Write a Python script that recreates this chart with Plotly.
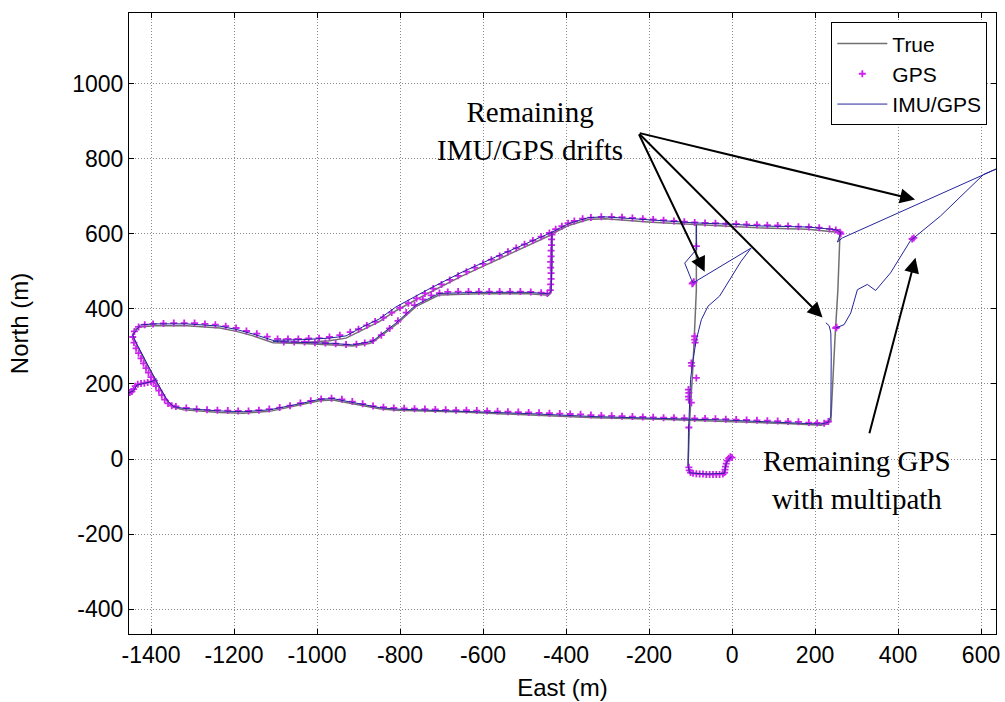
import plotly.graph_objects as go

# ---------------- data (East, North) in metres ----------------
true_main = [(-434,600),(-394,622),(-346,638),(-306,640),(-194,631),(-90,625),(6,620),(62,616),
             (182,612),(254,604),(260,598),(255,450),(248,320),(242,200),(238,101),(230,93),(214,90),
             (142,94),(62,97),(-18,101),(-98,104),(-178,106),(-330,110),(-490,118),(-650,125),
             (-810,130),(-850,134),(-914,147),(-962,157),(-994,155),(-1034,145),(-1114,127),
             (-1178,122),(-1234,124),(-1322,131),(-1346,138),(-1360,152),(-1386,203),(-1414,260),
             (-1436,308),(-1444,327),(-1440,344),(-1426,352),(-1394,355),(-1314,355),(-1234,349),
             (-1194,340),(-1154,328),(-1106,310),(-1034,308),(-962,305),(-914,301),(-874,308),
             (-866,311),(-810,358),(-762,406),(-706,437),(-610,440),(-490,440),(-442,436),
             (-436,443),(-434,520),(-434,600)]
true_upper = [(-1040,310),(-970,315),(-930,322),(-890,345),(-850,366),(-810,395),(-730,443),
              (-650,488),(-570,528),(-490,568),(-434,598)]
true_west_leg = [(-86,624),(-86,450),(-94,250),(-102,105),(-106,-19)]

gps_start = [(-1456,175),(-1451,177),(-1446,180),(-1442,186),(-1438,194),(-1432,199),(-1424,201),
             (-1416,202),(-1408,204),(-1400,206),(-1392,209)]
gps_turn = [(-1444,325),(-1441,310),(-1436,295),(-1430,282),(-1424,268),(-1418,255),(-1412,242),
            (-1406,230),(-1400,218),(-1394,206),(-1388,194),(-1381,182),(-1374,170),(-1367,158),
            (-1359,148),(-1350,142)]
gps_south_road = [(-1340,140),(-1315,136),(-1290,133),(-1265,131),(-1240,130),(-1215,129),(-1190,128),
                  (-1165,128),(-1140,130),(-1115,133),(-1090,137),(-1065,142),(-1040,149),(-1015,155),
                  (-990,160),(-965,162),(-940,159),(-915,153),(-890,147),(-865,141),(-840,138),
                  (-815,136),(-790,135),(-765,134),(-740,133),(-715,132),(-690,131),(-665,130),
                  (-640,130),(-615,129),(-590,128),(-565,127),(-540,126),(-515,125),(-490,124),
                  (-465,123),(-440,122),(-415,121),(-390,120),(-365,119),(-340,117),(-315,116),
                  (-290,115),(-265,114),(-240,113),(-215,112),(-190,111),(-165,110),(-140,110),
                  (-115,109),(-90,108),(-65,108),(-40,107),(-15,106),(10,105),(35,104),(60,103),
                  (85,102),(110,101),(135,100),(160,99),(185,97),(205,96),(222,95),(232,100)]
gps_north_road = [(-1440,340),(-1430,352),(-1415,358),(-1395,360),(-1370,361),(-1345,362),(-1320,362),
                  (-1295,362),(-1270,360),(-1245,358),(-1220,354),(-1195,349),(-1170,341),(-1145,334),
                  (-1120,326),(-1095,320),(-1070,320),(-1045,320),(-1020,321),(-995,322),(-970,325),
                  (-945,330),(-920,338),(-900,346),(-880,356),(-860,366),(-840,377),(-820,390),
                  (-800,403),(-780,415),(-760,428),(-740,441),(-720,454),(-700,465),(-680,477),
                  (-660,488),(-640,499),(-620,510),(-600,520),(-580,531),(-560,541),(-540,552),
                  (-520,562),(-500,572),(-480,582),(-460,592),(-440,602),(-425,612),(-410,620),
                  (-395,628),(-380,634),(-360,640),(-340,643),(-315,645),(-290,645),(-265,644),
                  (-240,642),(-215,640),(-190,638),(-165,636),(-140,634),(-115,632),(-90,630),
                  (-65,629),(-40,628),(-15,627),(10,626),(35,625),(60,624),(85,623),(110,622),
                  (135,621),(160,619),(185,618),(210,616),(235,613),(250,610),(260,604)]
gps_branch = [(-1080,312),(-1055,312),(-1030,312),(-1005,310),(-980,309),(-955,307),(-930,305),
              (-905,306),(-885,309),(-865,316),(-845,330),(-825,348),(-805,368),(-785,390),
              (-765,410),(-745,425),(-725,436),(-705,442),(-685,445),(-660,446),(-635,446),
              (-610,446),(-585,446),(-560,446),(-535,446),(-510,446),(-485,445),(-460,443),
              (-445,441),(-438,450),(-437,465),(-436,480),(-436,495),(-437,510),(-437,525),
              (-436,540),(-436,555),(-435,570),(-435,585),(-434,598)]
gps_end_hook = [(0,4),(-4,6),(-8,2),(-12,-4),(-14,-12),(-16,-20),(-17,-28),(-18,-36),(-22,-40),
                (-30,-41),(-38,-41),(-46,-41),(-54,-41),(-62,-41),(-70,-40),(-78,-40),(-86,-39),
                (-94,-38),(-100,-36),(-103,-30),(-104,-22)]
gps_sparse = [(-86,567),(-90,327),(-90,318),(-89,310),(-98,256),(-97,248),(-86,216),(-105,185),
              (-104,176),(-105,166),(-104,158),(-98,150),(-104,84),(-94,469),(-92,472),(-96,467),
              (250,349),(252,351),(438,589),(434,586),(262,600)]

imu_start = [(-1454,176),(-1442,182),(-1434,197),(-1418,202),(-1396,207),(-1386,214)]
imu_loop = [(226,363),(234,355),(238,336),(239,274),(238,114),(232,98),(214,93),(142,97),(62,100),
            (-18,104),(-98,106),(-178,108),(-330,113),(-490,121),(-650,128),(-810,133),(-850,137),
            (-914,151),(-962,161),(-994,159),(-1034,149),(-1114,131),(-1178,126),(-1234,128),
            (-1322,135),(-1346,140),(-1360,155),(-1386,205),(-1414,262),(-1436,310),(-1444,330),
            (-1426,357),(-1394,360),(-1314,360),(-1234,354),(-1194,345),(-1154,333),(-1106,316),
            (-1034,318),(-970,322),(-930,328),(-890,352),(-850,373),(-810,405),(-730,453),
            (-650,498),(-570,538),(-490,578),(-434,604),(-394,627),(-346,643),(-306,645),
            (-194,636),(-90,629),(6,625),(62,621),(182,618),(250,611),(262,603),(254,578)]
imu_branch = [(-1106,313),(-1034,311),(-962,308),(-914,304),(-874,311),(-866,314),(-810,362),
              (-762,410),(-706,441),(-610,444),(-490,444),(-442,440),(-436,446),(-434,520),(-434,604)]
imu_northeast = [(250,349),(270,358),(286,389),(302,451),(326,465),(346,449),(382,496),(430,582),
                 (438,589),(502,647),(606,758),(660,784),(266,589),(254,578)]
imu_west_leg = [(-2,6),(-14,-10),(-18,-38),(-60,-40),(-102,-37),(-106,-19),(-105,70),(-104,105),
                (-102,158),(-100,212),(-94,265),(-86,318),(-74,371),(-58,407),(-30,434),(-6,478),
                (22,527),(46,562),(-94,469),(-98,478),(-114,522),(-110,527),(-86,558),(-86,624)]

x_ticks = [-1400, -1200, -1000, -800, -600, -400, -200, 0, 200, 400, 600]
x_tick_text = ["-1400", "-1200", "-1000", "-800", "-600", "-400", "-200", "0", "200", "400", "600"]
y_ticks = [-400, -200, 0, 200, 400, 600, 800, 1000]
y_tick_text = ["-400", "-200", "0", "200", "400", "600", "800", "1000"]


def join(*segs):
    xs, ys = [], []
    for s in segs:
        if xs:
            xs.append(None); ys.append(None)
        xs += [p[0] for p in s]
        ys += [p[1] for p in s]
    return xs, ys


tx, ty = join(true_main, true_upper, true_west_leg)
gx, gy = join(gps_start, gps_turn, gps_south_road, gps_north_road, gps_branch, gps_end_hook, gps_sparse)
ix, iy = join(imu_start, imu_loop, imu_branch, imu_northeast, imu_west_leg)

fig = go.Figure()
fig.add_trace(go.Scatter(x=tx, y=ty, mode="lines", name="True",
                         line=dict(color="#707070", width=1.5)))
fig.add_trace(go.Scatter(x=gx, y=gy, mode="markers", name="GPS",
                         marker=dict(symbol="cross-thin-open", size=5, color="#cc22ee",
                                     line=dict(width=1.8, color="#cc22ee"))))
fig.add_trace(go.Scatter(x=ix, y=iy, mode="lines", name="IMU/GPS",
                         line=dict(color="#24249a", width=1)))

serif = "Liberation Serif, Times New Roman, serif"
sans = "Liberation Sans, Arial, sans-serif"

fig.add_annotation(x=-486, y=875, text="Remaining<br>IMU/GPS drifts", showarrow=False,
                   font=dict(family=serif, size=29, color="black"))
fig.add_annotation(x=302, y=-55, text="Remaining GPS<br>with multipath", showarrow=False,
                   font=dict(family=serif, size=29, color="black"))

arrows = [((-66, 499), (-226, 869)), ((218, 377), (-226, 869)), ((441, 691), (-226, 869)),
          ((442, 536), (330, 65))]
for (hx, hy), (tx0, ty0) in arrows:
    fig.add_annotation(x=hx, y=hy, ax=tx0, ay=ty0, xref="x", yref="y", axref="x", ayref="y",
                       text="", showarrow=True, arrowhead=2, arrowsize=1.5, arrowwidth=2,
                       arrowcolor="black", standoff=0)

axis_common = dict(showgrid=True, gridcolor="#8a8a8a", griddash="1px,2px", gridwidth=1,
                   zeroline=False, showline=True, linecolor="black", linewidth=1,
                   mirror="ticks", ticks="inside", ticklen=5, tickcolor="black",
                   tickfont=dict(family=sans, size=23, color="black"))

fig.update_layout(
    width=1005, height=702,
    margin=dict(l=129, r=5, t=13, b=68),
    paper_bgcolor="white", plot_bgcolor="white",
    showlegend=True,
    legend=dict(x=0.99, y=0.985, xanchor="right", yanchor="top", bgcolor="white",
                bordercolor="black", borderwidth=1, itemwidth=50,
                font=dict(family=sans, size=21, color="black")),
    xaxis=dict(range=[-1453, 636], tickvals=x_ticks, ticktext=x_tick_text,
               title=dict(text="East (m)", font=dict(family=sans, size=24, color="black"), standoff=12),
               **axis_common),
    yaxis=dict(range=[-466, 1188], tickvals=y_ticks, ticktext=y_tick_text,
               title=dict(text="North (m)", font=dict(family=sans, size=24, color="black"), standoff=36),
               **axis_common),
)

fig.write_html("out.html")
